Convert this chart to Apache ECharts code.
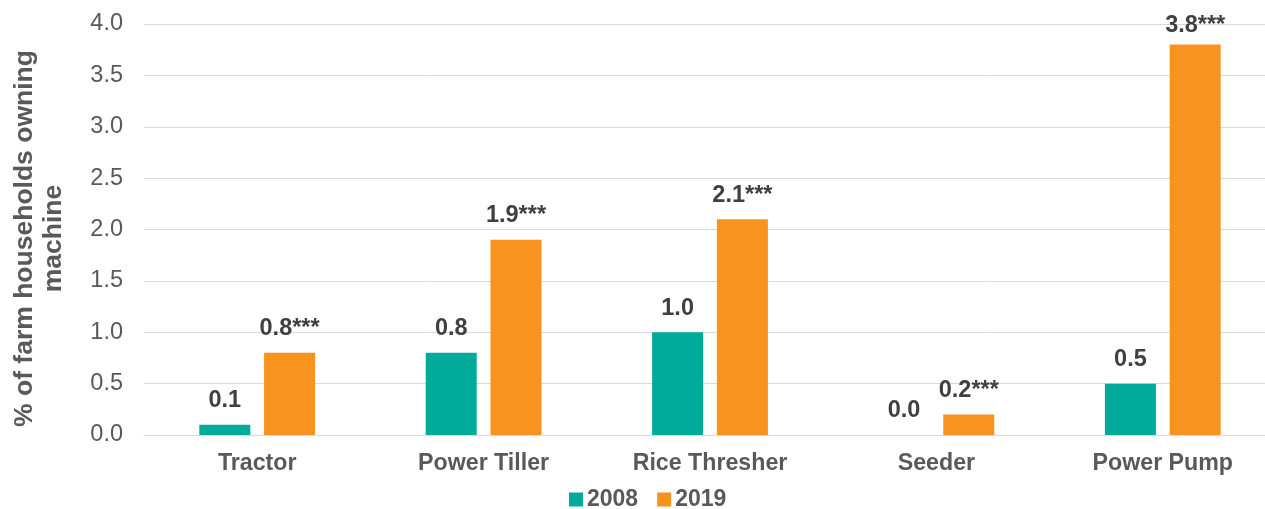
<!DOCTYPE html>
<html>
<head>
<meta charset="utf-8">
<script src="https://cdn.jsdelivr.net/npm/echarts@6/dist/echarts.min.js"></script>
<style>
  html, body { margin: 0; padding: 0; background: #fff; }
  #chart { width: 1265px; height: 509px; }
</style>
</head>
<body>
<div id="chart"></div>
<script>
const categories = ['Tractor', 'Power Tiller', 'Rice Thresher', 'Seeder', 'Power Pump'];
const values2008 = [0.1, 0.8, 1.0, 0.0, 0.5];
const values2019 = [0.8, 1.9, 2.1, 0.2, 3.8];
// significance stars shown next to the 2019 values
const stars2019 = ['***', '***', '***', '***', '***'];
const yTicks = [0, 0.5, 1.0, 1.5, 2.0, 2.5, 3.0, 3.5, 4.0];

const FONT = 'Liberation Sans, Arial, sans-serif';
const LABEL_MIN_TOP = 14; // keep value labels from running off the top edge
const chart = echarts.init(document.getElementById('chart'));

const valueLabel = {
  show: true,
  position: 'top',
  distance: 12,
  fontFamily: FONT,
  fontSize: 23.5,
  fontWeight: 'bold',
  color: '#404040'
};

function keepLabelInside(params) {
  const r = params.labelRect;
  if (r.y < LABEL_MIN_TOP) {
    return {
      x: r.x + r.width / 2,
      y: LABEL_MIN_TOP,
      align: 'center',
      verticalAlign: 'top'
    };
  }
  return {};
}

chart.setOption({
  animation: false,
  textStyle: { fontFamily: FONT },
  grid: { left: 144, right: -11, top: 24, bottom: 74, outerBoundsMode: 'none', containLabel: false },
  legend: {
    bottom: -7,
    left: 564,
    itemWidth: 14,
    itemHeight: 14,
    itemGap: 19,
    icon: 'rect',
    textStyle: { fontSize: 23, fontWeight: 'bold', color: '#595959', padding: [0, 0, 0, -1] },
    data: ['2008', '2019']
  },
  xAxis: {
    type: 'category',
    data: categories,
    axisLine: { lineStyle: { color: '#d9d9d9', width: 1 } },
    axisTick: { show: false },
    axisLabel: { fontSize: 23.2, fontWeight: 'bold', color: '#595959', margin: 17 }
  },
  yAxis: {
    type: 'value',
    min: yTicks[0],
    max: yTicks[yTicks.length - 1],
    interval: 0.5,
    name: '% of farm households owning\nmachine',
    nameLocation: 'middle',
    nameGap: 76,
    nameTextStyle: { fontSize: 26.5, fontWeight: 'bold', color: '#595959', lineHeight: 29, padding: [0, 18, 0, 0] },
    axisLine: { show: false },
    axisTick: { show: false },
    axisLabel: {
      fontSize: 23.5,
      color: '#595959',
      margin: 21,
      formatter: v => v.toFixed(1)
    },
    splitLine: { lineStyle: { color: '#d9d9d9', width: 1 } }
  },
  series: [
    {
      name: '2008',
      type: 'bar',
      data: values2008,
      barWidth: 51,
      barGap: '27%',
      itemStyle: { color: '#00AB9B' },
      label: Object.assign({}, valueLabel, {
        formatter: p => p.value.toFixed(1)
      }),
      labelLayout: keepLabelInside
    },
    {
      name: '2019',
      type: 'bar',
      data: values2019,
      barWidth: 51,
      itemStyle: { color: '#F7931E' },
      label: Object.assign({}, valueLabel, {
        formatter: p => p.value.toFixed(1) + stars2019[p.dataIndex]
      }),
      labelLayout: keepLabelInside
    }
  ]
});
</script>
</body>
</html>
